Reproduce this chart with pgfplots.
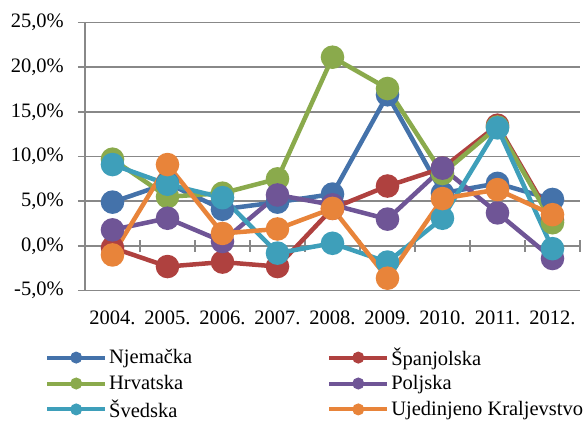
\documentclass[border=0pt]{standalone}
\usepackage{pgfplots}
\pgfplotsset{compat=1.18}
\usepackage{fontspec}
\setmainfont{Liberation Serif}
\definecolor{cBlue}{HTML}{4472AA}
\definecolor{cRed}{HTML}{AF413F}
\definecolor{cGreen}{HTML}{8AAA4C}
\definecolor{cPurple}{HTML}{6F5596}
\definecolor{cCyan}{HTML}{3E9FBA}
\definecolor{cOrange}{HTML}{E8843A}
\definecolor{cGrid}{HTML}{888888}
\begin{document}
\begin{tikzpicture}
\begin{axis}[
  scale only axis,
  width=495pt, height=268.4pt,
  xmin=-0.5, xmax=8.5, ymin=-5, ymax=25,
  axis lines=left,
  x axis line style={draw=none},
  y axis line style={-, draw=cGrid, line width=1.5pt},
  xtick={0,...,8},
  xticklabels={2004.,2005.,2006.,2007.,2008.,2009.,2010.,2011.,2012.},
  x tick style={draw=none},
  ytick={-5,0,5,10,15,20,25},
  yticklabels={{-5,0\%},{0,0\%},{5,0\%},{10,0\%},{15,0\%},{20,0\%},{25,0\%}},
  y tick style={draw=cGrid, line width=1.5pt},
  tick align=outside,
  major tick length=7pt,
  ymajorgrids,
  grid style={draw=cGrid, line width=1.5pt},
  tick label style={font=\fontsize{20.5}{24}\selectfont},
  xticklabel style={yshift=-9.5pt},
  yticklabel style={xshift=-10.7pt},
  clip=false,
  every axis plot/.append style={line width=4.5pt, mark=*, mark size=9.5pt},
  legend columns=2,
  legend cell align=left,
  legend style={draw=none, fill=none, at={(-43pt,-92.8pt)}, anchor=west,
    font=\fontsize{20.5}{24}\selectfont, row sep=4.5pt,
    /tikz/column 2/.style={column sep=133pt}},
  legend image code/.code={
    \draw[#1, line width=4pt, mark=none] (0pt,0pt) -- (58pt,0pt);
    \draw[#1, line width=1pt, only marks, mark size=5.5pt] plot coordinates {(29pt,0pt)};
  },
]
\pgfplotsinvokeforeach{0.5,1.5,2.5,3.5,4.5,5.5,6.5,7.5,8.5}{
  \draw[cGrid, line width=1.5pt] ([yshift=-6pt]axis cs:#1,0) -- ([yshift=6pt]axis cs:#1,0);
}
\addplot[color=cBlue] coordinates {(0,4.9) (1,7.0) (2,4.1) (3,4.9) (4,5.8) (5,16.9) (6,5.9) (7,7.0) (8,5.2)};
\addlegendentry{Njemačka}
\addplot[color=cRed] coordinates {(0,-0.2) (1,-2.3) (2,-1.8) (3,-2.3) (4,4.2) (5,6.7) (6,8.7) (7,13.5) (8,2.9)};
\addlegendentry{Španjolska}
\addplot[color=cGreen] coordinates {(0,9.7) (1,5.5) (2,5.9) (3,7.5) (4,21.1) (5,17.6) (6,8.1) (7,13.3) (8,2.6)};
\addlegendentry{Hrvatska}
\addplot[color=cPurple] coordinates {(0,1.8) (1,3.1) (2,0.5) (3,5.7) (4,4.6) (5,3.0) (6,8.7) (7,3.7) (8,-1.4)};
\addlegendentry{Poljska}
\addplot[color=cCyan] coordinates {(0,9.1) (1,6.9) (2,5.4) (3,-0.8) (4,0.3) (5,-1.8) (6,3.1) (7,13.2) (8,-0.3)};
\addlegendentry{Švedska}
\addplot[color=cOrange] coordinates {(0,-1.0) (1,9.1) (2,1.4) (3,1.9) (4,4.2) (5,-3.6) (6,5.3) (7,6.3) (8,3.5)};
\addlegendentry{Ujedinjeno Kraljevstvo}
\end{axis}
\pgfresetboundingbox
\path (-85pt,-130.3pt) rectangle (500pt,290.7pt);
\end{tikzpicture}
\end{document}
